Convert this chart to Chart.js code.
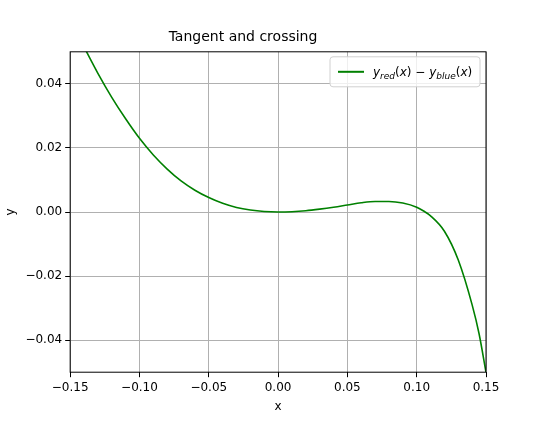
<!DOCTYPE html>
<html>
<head>
<script src="https://cdn.jsdelivr.net/npm/chart.js@4"></script>
<style>body{margin:0;background:#fff}#wrap{width:540px;height:422px}</style>
</head>
<body>
<div id="wrap"><canvas id="c"></canvas></div>
<script>
'use strict';

var xs = [-0.14, -0.13, -0.12, -0.11, -0.10, -0.09, -0.08, -0.07, -0.06, -0.05, -0.04, -0.03, -0.02, -0.01, 0,
  0.01, 0.02, 0.03, 0.04, 0.05, 0.06, 0.07, 0.08, 0.09, 0.10, 0.105, 0.11, 0.12, 0.13, 0.14, 0.145, 0.15];
var ys = [0.0515, 0.0433, 0.0358, 0.0291, 0.023, 0.0178, 0.0134, 0.0097, 0.0068, 0.0045, 0.0027, 0.0014, 0.0006, 0.00015, 0,
  0.0001, 0.0004, 0.0009, 0.0015, 0.0022, 0.0029, 0.0033, 0.0033, 0.0028, 0.0015, 0.0003, -0.0012, -0.006, -0.015, -0.029, -0.038, -0.05];
var xTicks = [-0.15, -0.10, -0.05, 0, 0.05, 0.10, 0.15];
var yTicks = [-0.04, -0.02, 0, 0.02, 0.04];

function fmt(v) {
  var s = Math.abs(v).toFixed(2);
  return (v < -1e-9 ? '\u2212' : '') + s;
}

var points = xs.map(function (x, i) { return { x: x, y: ys[i] }; });

// legend with subscripts, drawn by hand
var legendBox = {
  id: 'legendBox',
  afterDraw: function (chart) {
    var ctx = chart.ctx, a = chart.chartArea;
    var w = 150, h = 30, x0 = a.right - w - 6, y0 = a.top + 5;
    ctx.save();
    ctx.fillStyle = 'rgba(255,255,255,0.8)';
    ctx.strokeStyle = '#d0d0d0';
    ctx.lineWidth = 1;
    ctx.beginPath();
    ctx.roundRect(x0, y0, w, h, 3);
    ctx.fill(); ctx.stroke();
    ctx.strokeStyle = 'green'; ctx.lineWidth = 2;
    ctx.beginPath(); ctx.moveTo(x0 + 8, y0 + 15); ctx.lineTo(x0 + 34, y0 + 15); ctx.stroke();
    ctx.fillStyle = '#000'; ctx.textBaseline = 'alphabetic';
    var x = x0 + 43, base = y0 + 19;
    var parts = [['y', 'i', 0], ['red', 'i', 1], ['(x) \u2212 ', 'n', 0], ['y', 'i', 0], ['blue', 'i', 1], ['(x)', 'n', 0]];
    parts.forEach(function (p) {
      var size = p[2] ? 9 : 12;
      ctx.font = (p[1] === 'i' ? 'italic ' : '') + size + 'px "DejaVu Sans"';
      if (p[0].indexOf('(x)') >= 0) {
        ctx.font = size + 'px "DejaVu Sans"';
        ctx.fillText('(', x, base); x += ctx.measureText('(').width;
        ctx.font = 'italic ' + size + 'px "DejaVu Sans"';
        ctx.fillText('x', x, base); x += ctx.measureText('x').width;
        ctx.font = size + 'px "DejaVu Sans"';
        var rest = p[0].slice(2);
        ctx.fillText(rest, x, base); x += ctx.measureText(rest).width;
      } else {
        ctx.fillText(p[0], x, base + (p[2] ? 3 : 0));
        x += ctx.measureText(p[0]).width;
      }
    });
    ctx.restore();
  }
};

var frame = {
  id: 'frame',
  afterDatasetsDraw: function (chart) {
    var ctx = chart.ctx, a = chart.chartArea;
    ctx.save();
    ctx.strokeStyle = '#000'; ctx.lineWidth = 1;
    ctx.strokeRect(a.left, a.top, a.right - a.left, a.bottom - a.top);
    ctx.restore();
  }
};

Chart.defaults.font.family = '"DejaVu Sans"';
Chart.defaults.color = '#000';

new Chart(document.getElementById('c'), {
  type: 'line',
  data: {
    datasets: [{
      data: points,
      borderColor: 'green',
      borderWidth: 1.6,
      pointRadius: 0,
      cubicInterpolationMode: 'monotone',
      fill: false
    }]
  },
  options: {
    responsive: true,
    maintainAspectRatio: false,
    animation: false,
    layout: { padding: { left: 0, right: 54, top: 29, bottom: 4 } },
    plugins: {
      legend: { display: false },
      tooltip: { enabled: false },
      title: { display: true, text: 'Tangent and crossing', font: { size: 14, weight: 'normal' }, padding: { top: 0, bottom: 6 } }
    },
    scales: {
      x: {
        type: 'linear', min: -0.15, max: 0.15,
        afterBuildTicks: function (s) { s.ticks = xTicks.map(function (v) { return { value: v }; }); },
        ticks: { callback: fmt, font: { size: 12 }, maxRotation: 0, autoSkip: false },
        grid: { color: '#b0b0b0', tickColor: '#000', tickLength: 5 },
        border: { display: false },
        title: { display: true, text: 'x', font: { size: 12 }, padding: { top: 2 } }
      },
      y: {
        min: -0.05, max: 0.05,
        afterBuildTicks: function (s) { s.ticks = yTicks.map(function (v) { return { value: v }; }); },
        ticks: { callback: fmt, font: { size: 12 }, autoSkip: false },
        grid: { color: '#b0b0b0', tickColor: '#000', tickLength: 5 },
        border: { display: false },
        title: { display: true, text: 'y', font: { size: 12 } }
      }
    }
  },
  plugins: [frame, legendBox]
});
</script>
</body>
</html>
